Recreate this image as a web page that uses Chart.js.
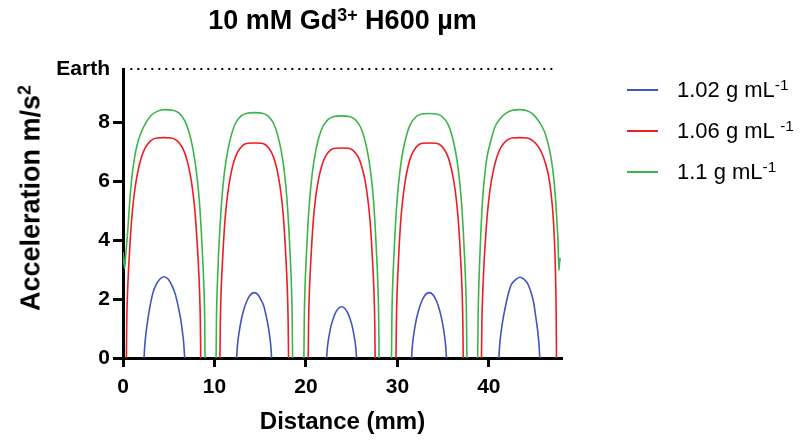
<!DOCTYPE html>
<html>
<head>
<meta charset="utf-8">
<script src="https://cdn.jsdelivr.net/npm/chart.js@4.4.1/dist/chart.umd.min.js"></script>
<style>
  html, body { margin: 0; padding: 0; background: #fff; }
  #wrap { position: relative; width: 808px; height: 441px; overflow: hidden;
          font-family: "Liberation Sans", Arial, Helvetica, sans-serif; color: #000; }
  #chart { position: absolute; left: 0; top: 0; }
  #title { position: absolute; left: 123px; width: 439px; top: 7px; text-align: center;
           font-weight: bold; font-size: 27px; line-height: 27px; white-space: nowrap; }
  #title sup { font-size: 0.66em; line-height: 0; vertical-align: 0.45em; }
  #ytitle { position: absolute; left: 31px; top: 198px; white-space: nowrap;
            font-weight: bold; font-size: 27px; line-height: 27px;
            transform: translate(-50%, -50%) rotate(-90deg); }
  #ytitle sup { font-size: 0.66em; line-height: 0; vertical-align: 0.5em; }
  .legend-row { position: absolute; left: 627px; height: 24px; white-space: nowrap;
                font-size: 22px; line-height: 24px; }
  .legend-row .swatch { position: absolute; left: 0; top: 11px; width: 31px; height: 2px; }
  .legend-row .label { position: absolute; left: 50px; top: 0; }
  .legend-row sup { font-size: 0.7em; line-height: 0; vertical-align: 0.45em; }
</style>
</head>
<body>
<div id="wrap">
  <canvas id="chart" width="808" height="441"></canvas>
  <div id="title">10 mM Gd<sup>3+</sup> H600 µm</div>
  <div id="ytitle">Acceleration m/s<sup>2</sup></div>
  <div id="legend"></div>
</div>
<script>
// Axis ticks and the gravity reference level
const distanceTicks = [0, 10, 20, 30, 40];
const accelTicks = [0, 2, 4, 6, 8];
const EARTH_G = 9.81;
const earthLineDistance = [0.8, 47.4];

// Series labels (density): text part and superscript part
const seriesNames = ['1.02 g mL', '1.06 g mL ', '1.1 g mL'];
const seriesSup = ['-1', '-1', '-1'];
const seriesColors = ['#3f57bd', '#ee1d25', '#3db44a'];

// 1.02 g mL-1 : distance (mm) / acceleration (m/s2); null = no levitation there
const lowDistance = [
  2.3, 2.39, 2.52, 2.74, 2.95, 3.28, 3.61, 4.04, 4.48, 4.93, 5.38, 5.72, 6.06, 6.29, 6.51, 6.65, 6.74, 9.5,
  12.42, 12.5, 12.61, 12.81, 13.0, 13.29, 13.58, 13.96, 14.35, 14.73, 15.11, 15.4, 15.68, 15.87, 16.06, 16.17, 16.25, 19.0,
  22.26, 22.33, 22.42, 22.59, 22.75, 23.0, 23.24, 23.57, 23.9, 24.23, 24.56, 24.8, 25.05, 25.21, 25.38, 25.47, 25.54, 28.6,
  31.55, 31.63, 31.74, 31.94, 32.13, 32.42, 32.71, 33.09, 33.48, 33.86, 34.24, 34.52, 34.8, 34.99, 35.18, 35.29, 35.37, 38.2,
  41.1, 41.19, 41.33, 41.56, 41.79, 42.13, 42.47, 42.93, 43.39, 43.83, 44.26, 44.59, 44.92, 45.13, 45.35, 45.48, 45.57
];
const lowAccel = [
  0, 0.46, 0.86, 1.35, 1.75, 2.22, 2.48, 2.68, 2.76, 2.68, 2.44, 2.16, 1.72, 1.35, 0.86, 0.46, 0, null,
  0, 0.37, 0.69, 1.09, 1.39, 1.72, 1.96, 2.16, 2.22, 2.16, 1.96, 1.76, 1.39, 1.09, 0.69, 0.37, 0, null,
  0, 0.29, 0.54, 0.85, 1.09, 1.35, 1.54, 1.69, 1.74, 1.69, 1.54, 1.35, 1.09, 0.85, 0.54, 0.29, 0, null,
  0, 0.37, 0.69, 1.09, 1.39, 1.72, 1.96, 2.16, 2.22, 2.16, 1.96, 1.72, 1.39, 1.09, 0.69, 0.37, 0, null,
  0, 0.46, 0.86, 1.34, 1.71, 2.18, 2.5, 2.66, 2.74, 2.68, 2.52, 2.25, 1.85, 1.4, 0.9, 0.48, 0
];

// 1.06 g mL-1
const midDistance = [
  0.37, 0.41, 0.49, 0.62, 0.78, 0.99, 1.28, 1.61, 2.02, 2.44, 3.05, 3.67, 4.5,
  5.3, 5.9, 6.5, 6.9, 7.3, 7.62, 7.9, 8.1, 8.26, 8.38, 8.46, 8.5, 9.5,
  10.6, 10.64, 10.71, 10.83, 10.98, 11.17, 11.44, 11.74, 12.12, 12.5, 13.07, 13.64, 14.4,
  15.14, 15.7, 16.25, 16.62, 16.99, 17.29, 17.55, 17.73, 17.88, 17.99, 18.06, 18.1, 19.1,
  20.25, 20.29, 20.36, 20.47, 20.62, 20.8, 21.05, 21.35, 21.71, 22.08, 22.62, 23.17, 23.9,
  24.63, 25.18, 25.74, 26.1, 26.47, 26.76, 27.02, 27.2, 27.35, 27.46, 27.53, 27.57, 28.6,
  29.85, 29.89, 29.96, 30.07, 30.21, 30.39, 30.65, 30.94, 31.3, 31.67, 32.21, 32.75, 33.48,
  34.22, 34.78, 35.34, 35.71, 36.08, 36.38, 36.64, 36.83, 36.98, 37.09, 37.16, 37.2, 38.2,
  39.2, 39.24, 39.33, 39.45, 39.62, 39.83, 40.12, 40.46, 40.88, 41.3, 41.92, 42.55, 43.39,
  44.19, 44.79, 45.4, 45.8, 46.2, 46.52, 46.8, 47.0, 47.16, 47.28, 47.36, 47.4
];
const midAccel = [
  0, 1.2, 2.17, 3.07, 3.96, 4.86, 5.69, 6.31, 6.82, 7.14, 7.38, 7.47, 7.48,
  7.47, 7.38, 7.14, 6.82, 6.31, 5.69, 4.86, 3.96, 3.07, 2.17, 1.2, 0, null,
  0, 1.17, 2.12, 2.99, 3.87, 4.75, 5.55, 6.16, 6.66, 6.97, 7.21, 7.29, 7.3,
  7.29, 7.21, 6.97, 6.66, 6.16, 5.55, 4.75, 3.87, 2.99, 2.12, 1.17, 0, null,
  0, 1.14, 2.07, 2.92, 3.78, 4.63, 5.42, 6.02, 6.5, 6.81, 7.04, 7.12, 7.13,
  7.12, 7.04, 6.81, 6.5, 6.02, 5.42, 4.63, 3.78, 2.92, 2.07, 1.14, 0, null,
  0, 1.17, 2.12, 2.99, 3.87, 4.75, 5.55, 6.16, 6.66, 6.97, 7.21, 7.29, 7.3,
  7.29, 7.21, 6.97, 6.66, 6.16, 5.55, 4.75, 3.87, 2.99, 2.12, 1.17, 0, null,
  0, 1.2, 2.17, 3.07, 3.96, 4.86, 5.69, 6.31, 6.82, 7.14, 7.38, 7.47, 7.48,
  7.47, 7.38, 7.18, 6.95, 6.6, 6.2, 5.6, 4.95, 4.1, 3.0, 1.6, 0
];

// 1.1 g mL-1
const highDistance = [
  0, 0.08, 0.18, 0.3, 0.55, 0.72, 0.9, 1.27, 1.6, 2.0, 2.5, 3.1, 3.8, 4.55,
  5.43, 6.1, 6.76, 7.2, 7.64, 7.99, 8.31, 8.53, 8.7, 8.84, 8.93, 8.97, 9.6,
  10.18, 10.22, 10.31, 10.43, 10.6, 10.81, 11.11, 11.45, 11.87, 12.29, 12.92, 13.56, 14.4,
  15.23, 15.85, 16.47, 16.88, 17.3, 17.63, 17.92, 18.13, 18.29, 18.42, 18.5, 18.54, 19.2,
  19.78, 19.82, 19.9, 20.03, 20.19, 20.4, 20.69, 21.02, 21.43, 21.84, 22.46, 23.08, 23.9,
  24.72, 25.34, 25.95, 26.36, 26.77, 27.1, 27.39, 27.59, 27.75, 27.88, 27.96, 28.0, 28.7,
  29.36, 29.4, 29.48, 29.61, 29.77, 29.98, 30.27, 30.6, 31.01, 31.42, 32.04, 32.66, 33.48,
  34.3, 34.92, 35.54, 35.95, 36.36, 36.69, 36.98, 37.19, 37.35, 37.48, 37.56, 37.6, 38.2,
  38.78, 38.84, 38.92, 39.0, 39.12, 39.31, 39.55, 39.8, 40.2, 40.66, 41.25, 41.93, 42.6, 43.39,
  44.1, 44.84, 45.5, 46.1, 46.5, 46.85, 47.1, 47.3, 47.45, 47.56, 47.66, 47.73, 47.8
];
const highAccel = [
  3.6, 3.3, 3.04, 3.5, 4.45, 5.25, 5.92, 6.82, 7.3, 7.67, 7.98, 8.24, 8.38, 8.43,
  8.41, 8.32, 8.05, 7.69, 7.11, 6.41, 5.48, 4.47, 3.46, 2.44, 1.35, 0, null,
  0, 1.33, 2.42, 3.42, 4.41, 5.41, 6.35, 7.03, 7.6, 7.96, 8.22, 8.31, 8.33,
  8.31, 8.22, 7.96, 7.6, 7.03, 6.35, 5.41, 4.41, 3.42, 2.42, 1.33, 0, null,
  0, 1.32, 2.38, 3.37, 4.36, 5.34, 6.26, 6.94, 7.5, 7.85, 8.11, 8.2, 8.22,
  8.2, 8.11, 7.85, 7.5, 6.94, 6.26, 5.34, 4.36, 3.37, 2.38, 1.32, 0, null,
  0, 1.33, 2.41, 3.4, 4.4, 5.4, 6.32, 7.01, 7.57, 7.93, 8.19, 8.28, 8.3,
  8.28, 8.19, 7.93, 7.57, 7.01, 6.32, 5.4, 4.4, 3.4, 2.41, 1.33, 0, null,
  0, 1.6, 2.6, 3.3, 4.2, 5.36, 6.2, 6.82, 7.35, 7.84, 8.13, 8.32, 8.41, 8.43,
  8.4, 8.27, 8.02, 7.67, 7.25, 6.71, 6.1, 5.36, 4.6, 4.0, 2.98, 3.2, 3.4
];

const FONT = '"Liberation Sans", Arial, Helvetica, sans-serif';
const toPoints = (xs, ys) => xs.map((x, i) => ({ x: x, y: ys[i] }));

function curve(label, xs, ys, color) {
  return {
    label: label,
    data: toPoints(xs, ys),
    borderColor: color,
    backgroundColor: color,
    borderWidth: 1.6,
    pointRadius: 0,
    cubicInterpolationMode: 'monotone',
    spanGaps: false,
    fill: false
  };
}

// HTML legend (keeps the superscript units as text)
const legendEl = document.getElementById('legend');
const legendTops = [78, 119, 160];
seriesNames.forEach((name, i) => {
  const row = document.createElement('div');
  row.className = 'legend-row';
  row.style.top = legendTops[i] + 'px';
  row.innerHTML = '<div class="swatch" style="background:' + seriesColors[i] + '"></div>' +
    '<div class="label">' + name + '<sup>' + seriesSup[i] + '</sup></div>';
  legendEl.appendChild(row);
});

const tickFont = { family: FONT, size: 21, weight: 'bold' };

new Chart(document.getElementById('chart'), {
  type: 'line',
  data: {
    datasets: [
      {
        label: 'Earth',
        data: earthLineDistance.map(x => ({ x: x, y: EARTH_G })),
        borderColor: '#000',
        borderWidth: 2,
        borderDash: [2, 5],
        pointRadius: 0,
        clip: false,
        fill: false
      },
      curve(seriesNames[0] + seriesSup[0], lowDistance, lowAccel, seriesColors[0]),
      curve(seriesNames[1] + seriesSup[1], midDistance, midAccel, seriesColors[1]),
      curve(seriesNames[2] + seriesSup[2], highDistance, highAccel, seriesColors[2])
    ]
  },
  options: {
    responsive: false,
    devicePixelRatio: 1,
    animation: false,
    layout: { padding: { left: 0, top: 69, right: 246, bottom: 0 } },
    plugins: {
      legend: { display: false },
      title: { display: false },
      tooltip: { enabled: false }
    },
    scales: {
      x: {
        type: 'linear',
        min: 0,
        max: 48,
        afterBuildTicks: s => { s.ticks = distanceTicks.map(v => ({ value: v })); },
        afterFit: s => { s.height = 83; },
        grid: { drawOnChartArea: false, tickLength: 9, tickWidth: 3, tickColor: '#000' },
        border: { display: true, color: '#000', width: 3 },
        ticks: { color: '#000', font: tickFont, padding: 8, maxRotation: 0 },
        title: { display: true, text: 'Distance (mm)', color: '#000',
                 font: { family: FONT, size: 24, weight: 'bold' },
                 padding: { top: 0, bottom: 4 } }
      },
      y: {
        min: 0,
        max: EARTH_G,
        afterBuildTicks: s => { s.ticks = accelTicks.concat([EARTH_G]).map(v => ({ value: v })); },
        afterFit: s => { s.width = 123; },
        grid: {
          drawOnChartArea: false, tickLength: 10, tickWidth: 3,
          tickColor: c => (c.tick && c.tick.value === EARTH_G) ? 'rgba(0,0,0,0)' : '#000'
        },
        border: { display: true, color: '#000', width: 3 },
        ticks: {
          color: '#000', font: tickFont, padding: 3,
          callback: v => (v === EARTH_G ? 'Earth' : String(v))
        },
        title: { display: false }
      }
    }
  }
});
</script>
</body>
</html>
